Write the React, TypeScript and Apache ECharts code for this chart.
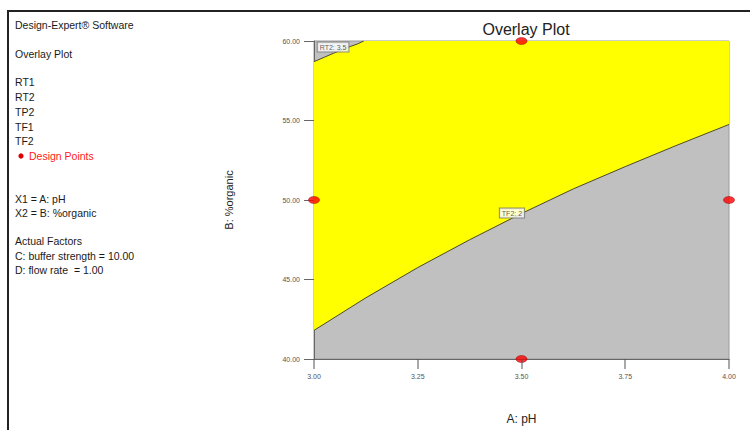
import React, { useEffect, useRef } from "react";
import * as echarts from "echarts";

// Factor ranges
const phTicks = [3.0, 3.25, 3.5, 3.75, 4.0];
const organicTicks = [40, 45, 50, 55, 60];

// TF2 = 2 contour: [pH, %organic]
const tf2Contour: [number, number][] = [
  [3.0, 41.8],
  [3.125, 43.85],
  [3.25, 45.75],
  [3.375, 47.5],
  [3.5, 49.15],
  [3.625, 50.7],
  [3.75, 52.1],
  [3.875, 53.45],
  [4.0, 54.75],
];

// RT2 = 3.5 contour in the upper-left corner: [pH, %organic]
const rt2Contour: [number, number][] = [
  [3.0, 58.7],
  [3.025, 58.98],
  [3.047, 59.23],
  [3.068, 59.45],
  [3.087, 59.65],
  [3.105, 59.82],
  [3.12, 60.0],
];

// Design points: [pH, %organic]
const designPoints: [number, number][] = [
  [3.0, 50],
  [3.5, 60],
  [3.5, 40],
  [4.0, 50],
];

// Contour flags: [pH, %organic, text]
const contourFlags: [number, number, string][] = [
  [3.046, 59.62, "RT2: 3.5"],
  [3.477, 49.18, "TF2: 2"],
];

// Side panel text lines
const sideLines: { text: string; y: number; color?: string }[] = [
  { text: "Design-Expert® Software", y: 25 },
  { text: "Overlay Plot", y: 54 },
  { text: "RT1", y: 82 },
  { text: "RT2", y: 97 },
  { text: "TP2", y: 112 },
  { text: "TF1", y: 127 },
  { text: "TF2", y: 141 },
  { text: "X1 = A: pH", y: 199 },
  { text: "X2 = B: %organic", y: 213 },
  { text: "Actual Factors", y: 241 },
  { text: "C: buffer strength = 10.00", y: 256 },
  { text: "D: flow rate  = 1.00", y: 270 },
];

const FONT = "Arial, 'Liberation Sans', sans-serif";
const TICK_COLOR = "#555";

export default function App() {
  const ref = useRef<HTMLDivElement>(null);

  useEffect(() => {
    document.body.style.margin = "0";
    const chart = echarts.init(ref.current!, null, { renderer: "svg" });

    // Feasible (yellow) region: above TF2 contour, below top edge and RT2 contour
    const feasible: [number, number][] = [
      ...tf2Contour,
      [4.0, 60],
      ...rt2Contour.slice().reverse(),
    ];

    const graphics: any[] = [
      {
        type: "line",
        shape: { x1: 8, y1: 11, x2: 750, y2: 11 },
        style: { stroke: "#222", lineWidth: 2 },
      },
      {
        type: "line",
        shape: { x1: 8, y1: 10, x2: 8, y2: 430 },
        style: { stroke: "#222", lineWidth: 2 },
      },
      ...sideLines.map((l) => ({
        type: "text",
        x: 15,
        y: l.y,
        style: {
          text: l.text,
          font: `10.5px ${FONT}`,
          fill: l.color || "#1a1a1a",
          verticalAlign: "middle",
        },
      })),
      {
        type: "circle",
        shape: { cx: 21, cy: 156, r: 2.6 },
        style: { fill: "#e00000" },
      },
      {
        type: "text",
        x: 29,
        y: 156,
        style: {
          text: "Design Points",
          font: `10.5px ${FONT}`,
          fill: "#ff1a1a",
          verticalAlign: "middle",
        },
      },
    ];

    const tickLabel = {
      fontFamily: FONT,
      fontSize: 7,
      color: "#555",
      margin: 14,
      formatter: (v: number) => v.toFixed(2),
    };

    chart.setOption({
      animation: false,
      title: {
        text: "Overlay Plot",
        left: 521,
        top: 16,
        textAlign: "center",
        textStyle: { fontFamily: FONT, fontSize: 16, fontWeight: "normal", color: "#222" },
      },
      grid: {
        left: 314,
        top: 41,
        width: 415,
        height: 318,
        containLabel: false,
        outerBoundsMode: "none",
        show: true,
        backgroundColor: "#c0c0c0",
        borderColor: "#9a9a9a",
        borderWidth: 1,
      },
      xAxis: {
        type: "value",
        min: phTicks[0],
        max: phTicks[phTicks.length - 1],
        interval: 0.25,
        name: "A: pH",
        nameLocation: "middle",
        nameGap: 54,
        nameTextStyle: { fontFamily: FONT, fontSize: 12, color: "#222" },
        axisLine: { show: true, lineStyle: { color: "#666", width: 1 } },
        axisTick: { show: false },
        axisLabel: tickLabel,
        splitLine: { show: false },
      },
      yAxis: {
        type: "value",
        min: organicTicks[0],
        max: organicTicks[organicTicks.length - 1],
        interval: 5,
        name: "B: %organic",
        nameLocation: "middle",
        nameRotate: 90,
        nameGap: 80,
        nameTextStyle: { fontFamily: FONT, fontSize: 11, color: "#222" },
        axisLine: { show: true, lineStyle: { color: "#666", width: 1 } },
        axisTick: { show: true, inside: false, length: 10, lineStyle: { color: "#666", width: 1 } },
        axisLabel: tickLabel,
        splitLine: { show: false },
      },
      series: [
        {
          type: "custom",
          silent: true,
          z: 1,
          data: [0],
          renderItem: (_params: any, api: any) => ({
            type: "polygon",
            shape: { points: feasible.map((p) => api.coord(p)) },
            style: { fill: "#ffff00", stroke: "none" },
          }),
        },
        {
          type: "line",
          data: tf2Contour,
          showSymbol: false,
          z: 2,
          lineStyle: { color: "#4a4a2a", width: 1 },
        },
        {
          type: "line",
          data: rt2Contour,
          showSymbol: false,
          z: 2,
          lineStyle: { color: "#4a4a2a", width: 1 },
        },
        {
          type: "scatter",
          z: 3,
          data: contourFlags.map((f) => ({ value: [f[0], f[1]], name: f[2] })),
          symbolSize: 0,
          label: {
            show: true,
            position: "inside",
            formatter: (p: any) => p.name,
            fontFamily: FONT,
            fontSize: 7,
            color: "#333",
            backgroundColor: "#ffffff",
            borderColor: "#777",
            borderWidth: 1,
            padding: [1, 2],
          },
        },
        {
          type: "scatter",
          z: 4,
          clip: false,
          data: designPoints,
          symbol: "circle",
          symbolSize: [11, 7],
          itemStyle: { color: "#ff0000", borderColor: "#8a0000", borderWidth: 0.6 },
        },
      ],
      graphic: graphics,
    });

    // pH tick marks hanging below the bottom axis, placed through the x scale
    const phTickMarks = phTicks.map((v) => {
      const p = chart.convertToPixel({ gridIndex: 0 }, [v, organicTicks[0]]) as number[];
      const x = Math.round(p[0]);
      return {
        type: "rect",
        shape: { x: x - 0.5, y: p[1], width: 1, height: 10 },
        style: { fill: TICK_COLOR },
        z: 10,
      };
    });
    chart.setOption({ graphic: [...graphics, ...phTickMarks] });

    return () => chart.dispose();
  }, []);

  return (
    <div
      ref={ref}
      style={{ position: "absolute", left: 0, top: 0, width: 750, height: 430, background: "#fff" }}
    />
  );
}
